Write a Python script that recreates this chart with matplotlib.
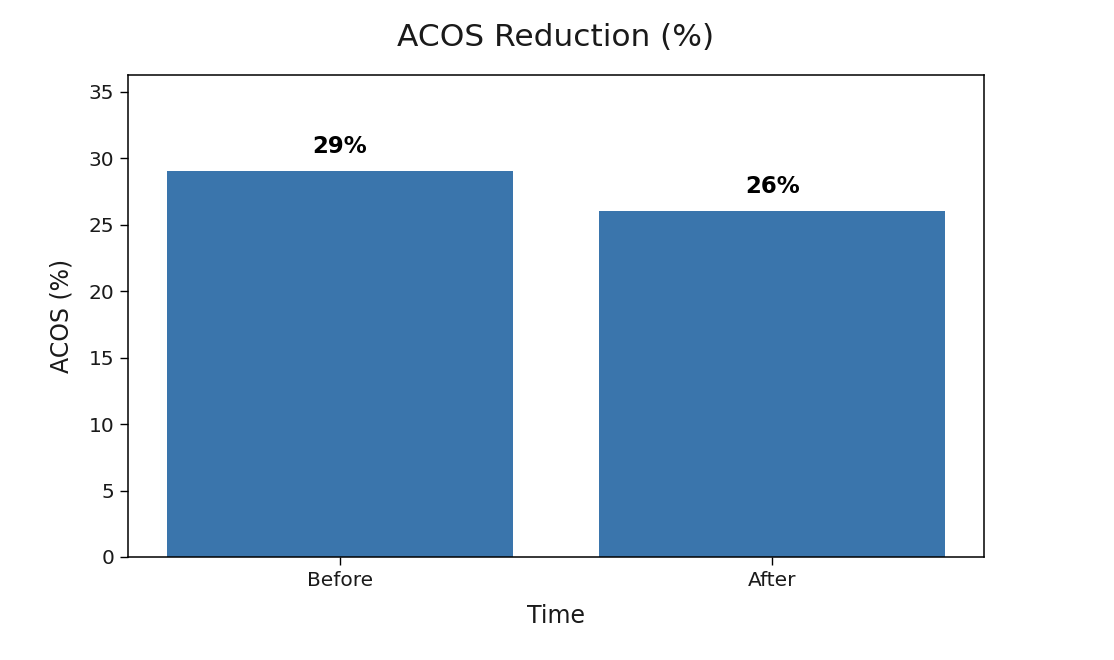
import matplotlib
matplotlib.use("Agg")
import matplotlib.pyplot as plt

# data
periods = ["Before", "After"]
acos_pct = [29, 26]
bar_labels = ["29%", "26%"]

BAR_COLOR = "#3a75ac"
TEXT_COLOR = "#1a1a1a"

fig = plt.figure(figsize=(11.14, 6.6), dpi=100)
ax = fig.add_axes([128 / 1114, 1 - 557 / 660, 856 / 1114, 482 / 660])

x = range(len(periods))
ax.bar(x, acos_pct, width=0.8, color=BAR_COLOR)
for i, (v, lab) in enumerate(zip(acos_pct, bar_labels)):
    ax.text(i, v + 1.0, lab, ha="center", va="bottom",
            fontsize=16.5, fontweight="bold", color="black")

ax.set_xticks(list(x))
ax.set_xticklabels(periods)
ax.set_ylim(0, max(acos_pct) * 1.25)
ax.tick_params(axis="both", labelsize=14.5, length=5.5, width=1.0,
               pad=4.5, labelcolor=TEXT_COLOR)
for sp in ax.spines.values():
    sp.set_linewidth(1.1)

ax.set_title("ACOS Reduction (%)", fontsize=22.5, pad=21, color=TEXT_COLOR)
ax.set_xlabel("Time", fontsize=17, labelpad=10, color=TEXT_COLOR)
ax.set_ylabel("ACOS (%)", fontsize=17, labelpad=11, color=TEXT_COLOR)

fig.savefig("out.png", dpi=100)
